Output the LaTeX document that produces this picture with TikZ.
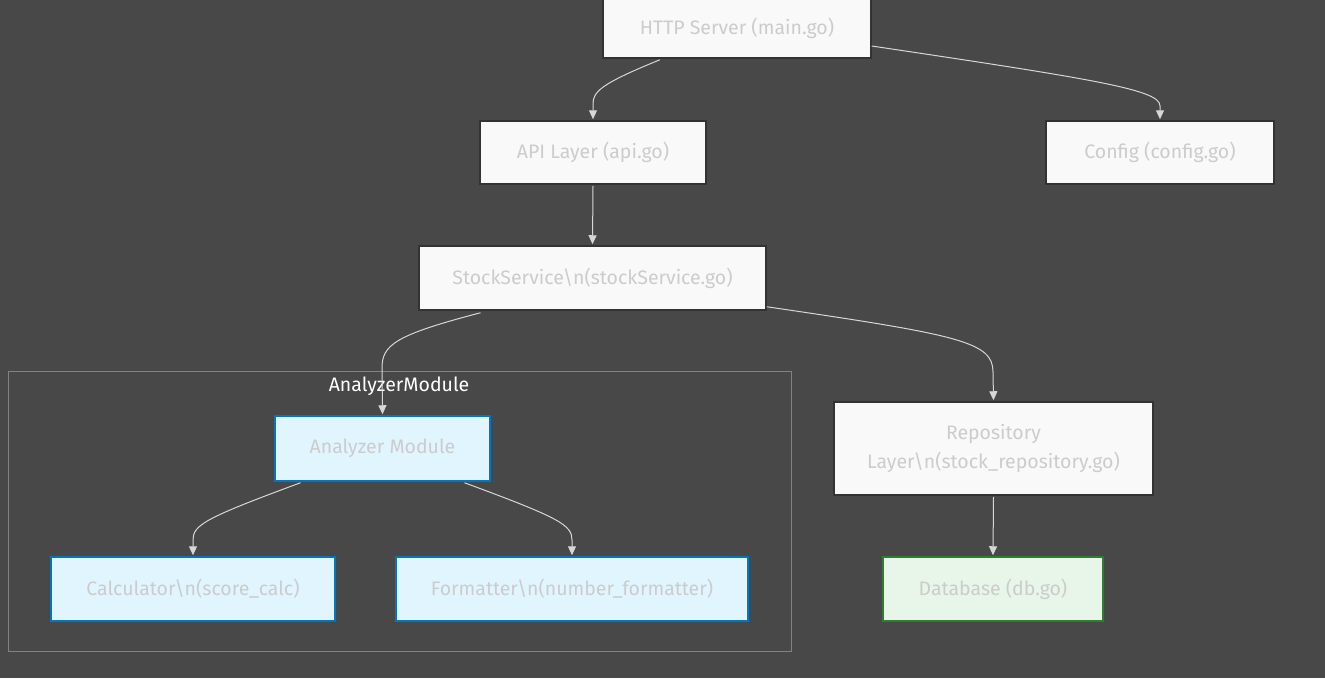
\documentclass[tikz,border=0pt]{standalone}
\usepackage{fontspec}
\setmainfont{Fira Sans}
\usetikzlibrary{arrows.meta}
\definecolor{bgc}{RGB}{71,72,71}
\definecolor{txtc}{RGB}{204,204,204}
\definecolor{boxfill}{RGB}{249,249,249}
\definecolor{boxline}{RGB}{51,51,51}
\definecolor{bluefill}{RGB}{225,245,254}
\definecolor{blueline}{RGB}{2,119,189}
\definecolor{greenfill}{RGB}{232,245,233}
\definecolor{greenline}{RGB}{46,125,50}
\definecolor{edgec}{RGB}{215,215,215}
\definecolor{clusterc}{RGB}{130,130,130}
\begin{document}
\begin{tikzpicture}[x=1pt,y=-1pt,
  every node/.style={font=\fontsize{19.5}{29}\selectfont, text=txtc, inner sep=0pt, align=center},
  plainbox/.style={draw=boxline, fill=boxfill, line width=1.5pt},
  bluebox/.style={draw=blueline, fill=bluefill, line width=1.5pt},
  greenbox/.style={draw=greenline, fill=greenfill, line width=1.5pt},
  edge/.style={draw=edgec, line width=1pt, -{Triangle[length=9pt,width=8pt]}},
]
\fill[bgc] (0,0) rectangle (1325,678);
\useasboundingbox (0,0) rectangle (1325,678);
% cluster
\draw[clusterc, line width=1pt] (8,371) rectangle (791,651);
\node[text=white] (clabel) at (399,386) {AnalyzerModule};
% nodes
\node[plainbox, minimum width=268pt, minimum height=60pt] (http) at (737,28) {HTTP Server (main.go)};
\node[plainbox, minimum width=226pt, minimum height=63pt] (api) at (593,152.5) {API Layer (api.go)};
\node[plainbox, minimum width=228pt, minimum height=63pt] (cfg) at (1160,152.5) {Config (config.go)};
\node[plainbox, minimum width=347pt, minimum height=64pt] (svc) at (592.5,278) {StockService\textbackslash n(stockService.go)};
\node[bluebox, minimum width=215pt, minimum height=65pt] (ana) at (382.5,448.5) {Analyzer Module};
\node[bluebox, minimum width=284pt, minimum height=64pt] (calc) at (193,589) {Calculator\textbackslash n(score\_calc)};
\node[bluebox, minimum width=352pt, minimum height=64pt] (fmt) at (572,589) {Formatter\textbackslash n(number\_formatter)};
\node[plainbox, minimum width=319pt, minimum height=93pt] (repo) at (993.5,448.5) {Repository\\Layer\textbackslash n(stock\_repository.go)};
\node[greenbox, minimum width=220pt, minimum height=64pt] (db) at (993,589) {Database (db.go)};
% edges
\draw[edge] ([xshift=-77pt,yshift=-1pt]http.south) .. controls (600,84) and (593,92) .. (593,104) -- ([yshift=1pt]api.north);
\draw[edge] ([yshift=-18pt]http.east) .. controls (1100,80) and (1160,90) .. (1160,106) -- ([yshift=1pt]cfg.north);
\draw[edge] ([yshift=-1pt]api.south) -- ([yshift=1pt]svc.north);
\draw[edge] ([xshift=-112pt,yshift=-2pt]svc.south) .. controls (395,335) and (382,345) .. (382,368) -- ([yshift=1pt]ana.north);
\draw[edge] ([yshift=4pt]svc.south east) .. controls (960,335) and (993,342) .. (993,372) -- ([yshift=1pt]repo.north);
\draw[edge] ([xshift=-82pt,yshift=-1pt]ana.south) .. controls (205,518) and (193,525) .. (193,540) -- ([yshift=1pt]calc.north);
\draw[edge] ([xshift=82pt,yshift=-1pt]ana.south) .. controls (560,518) and (572,525) .. (572,540) -- ([yshift=1pt]fmt.north);
\draw[edge] ([yshift=-1pt]repo.south) -- ([yshift=1pt]db.north);
\end{tikzpicture}
\end{document}
